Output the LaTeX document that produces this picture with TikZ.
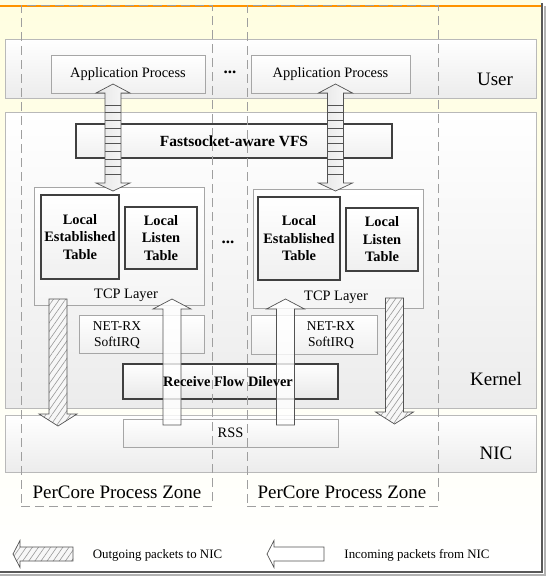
\documentclass[tikz,border=0pt]{standalone}
\usepackage{fontspec}
\setmainfont{Liberation Serif}
\usetikzlibrary{positioning}
\usetikzlibrary{patterns.meta}
\newcommand{\taillegrand}{\fontsize{19}{22}\selectfont}
\newcommand{\taillemoyen}{\fontsize{14.4}{17.5}\selectfont}
\newcommand{\taillepetit}{\fontsize{13.5}{16.5}\selectfont}
\newcommand{\taillelegende}{\fontsize{12.9}{15}\selectfont}
\tikzstyle{couche}=[
  draw=gray!55,
  line width=.8pt,
  top color=white,
  bottom color=gray!15,
  minimum width=531pt,
  inner sep=0pt
]
\tikzstyle{boite}=[
  draw=gray!70,
  line width=.8pt,
  top color=white,
  bottom color=gray!12,
  inner sep=0pt,
  align=center
]
\tikzstyle{boitegras}=[
  boite,
  draw=black!75,
  line width=1.3pt
]
\tikzstyle{tablelocale}=[
  boitegras,
  line width=1.6pt,
  font=\taillemoyen\bfseries
]
\tikzstyle{zone}=[
  draw=gray!75,
  line width=1pt,
  dash pattern=on 9pt off 5pt,
  inner sep=0pt,
  minimum width=191pt,
  minimum height=501pt
]
\tikzstyle{titre}=[inner sep=0pt,font=\taillegrand]
\tikzstyle{sortant}=[
  draw=gray!65!black,
  line width=.7pt,
  preaction={fill=gray!6},
  pattern={Lines[angle=55,distance=5pt,line width=.6pt]},
  pattern color=gray!80
]
\tikzstyle{entrant}=[
  draw=gray!65!black,
  line width=.7pt,
  fill=white,
  fill opacity=.8
]
\tikzstyle{echange}=[
  draw=gray!65!black,
  line width=.7pt,
  left color=gray!20,
  right color=gray!4
]

\begin{document}
\begin{tikzpicture}[x=1pt,y=-1pt]
    \useasboundingbox (0,0) rectangle (548,576);
    \shade[top color=orange!8!yellow!12, bottom color=white] (0,0) rectangle (541,571);
    \draw[orange!85!yellow,line width=1.5pt] (0,6) -- (541,6);
    \draw[black!30,line width=2pt] (545,6) -- (545,575) -- (0,575);
    \draw[black!65,line width=1.6pt] (542,3) -- (542,572) -- (0,572);

    \node[couche,minimum height=59pt] (user) at (270.5,68.5) {};
    \node[couche,minimum height=296pt] (kernel) at (270.5,260) {};
    \node[couche,minimum height=57pt] (nic) at (270.5,443.5) {};
    \node[titre] (luser) at (495,79) {User};
    \node[titre] (lkernel) at (496,379) {Kernel};
    \node[titre] (lnic) at (496,453) {NIC};

    \node[boite,minimum width=154pt,minimum height=38pt,font=\taillemoyen] (appA) at (128,74) {Application Process};
    \node[boite,minimum width=159pt,minimum height=38pt,font=\taillemoyen] (appB) at (330.5,74) {Application Process};
    \node[inner sep=0pt,font=\fontsize{17}{17}\selectfont\bfseries] (pointsA) at (230,72) {...};
    \node[boitegras,minimum width=316pt,minimum height=34pt,font=\fontsize{15.5}{17}\selectfont\bfseries] (vfs) at (234,141) {Fastsocket-aware VFS};

    \node[boite,minimum width=170pt,minimum height=118pt,bottom color=gray!8] (tcpA) at (119,246) {};
    \node[boite,minimum width=170pt,minimum height=119pt,bottom color=gray!8] (tcpB) at (338,248.5) {};
    \node[inner sep=0pt,anchor=base,font=\taillemoyen] (ltcpA) at (126,298) {TCP Layer};
    \node[inner sep=0pt,anchor=base,font=\taillemoyen] (ltcpB) at (336,300) {TCP Layer};
    \node[tablelocale,minimum width=78pt,minimum height=84pt] (etabA) at (80,237) {Local\\Established\\Table};
    \node[tablelocale,minimum width=72pt,minimum height=62pt,line width=1.3pt] (ecouteA) at (161,238) {Local\\Listen\\Table};
    \node[tablelocale,minimum width=82pt,minimum height=83pt] (etabB) at (299,238.5) {Local\\Established\\Table};
    \node[tablelocale,minimum width=72pt,minimum height=63pt,line width=1.3pt] (ecouteB) at (382,239.5) {Local\\Listen\\Table};
    \node[inner sep=0pt,font=\fontsize{17}{17}\selectfont\bfseries] (pointsB) at (228,242) {...};

    \node[boite,minimum width=125pt,minimum height=38pt] (rxA) at (141.5,334) {};
    \node[boite,minimum width=126pt,minimum height=39pt] (rxB) at (314,334.5) {};
    \node[inner sep=0pt,align=center,font=\taillepetit] (lrxA) at (117,335) {NET-RX\\SoftIRQ};
    \node[inner sep=0pt,align=center,font=\taillepetit] (lrxB) at (331,335) {NET-RX\\SoftIRQ};
    \node[boitegras,minimum width=215pt,minimum height=35pt,bottom color=gray!18] (rfd) at (230.5,381.5) {};
    \node[boite,minimum width=215pt,minimum height=28pt,font=\taillemoyen] (rss) at (230.5,433) {RSS};

    \foreach \cx in {113,335.5}{
      \draw[echange] (\cx,84) -- (\cx+17,93) -- (\cx+8,93) -- (\cx+8,183) -- (\cx+17,183) -- (\cx,191)
        -- (\cx-17,183) -- (\cx-8,183) -- (\cx-8,93) -- (\cx-17,93) -- cycle;
      \foreach \y in {105,112.7,...,181}
        \draw[gray!65!black,line width=.5pt] (\cx-8,\y) -- (\cx+8,\y);
    }
    \foreach \cx/\haut/\pointe in {58/299/426,394.5/298/424}
      \draw[sortant] (\cx-9,\haut) -- (\cx+9,\haut) -- (\cx+9,\pointe-12) -- (\cx+19,\pointe-12) -- (\cx,\pointe)
        -- (\cx-19,\pointe-12) -- (\cx-9,\pointe-12) -- cycle;
    \foreach \cx in {172,285.5}
      \draw[entrant] (\cx-9,425) -- (\cx+9,425) -- (\cx+9,309) -- (\cx+19,309) -- (\cx,299)
        -- (\cx-19,309) -- (\cx-9,309) -- cycle;
    \node[inner sep=0pt,font=\taillemoyen\bfseries] (lrfd) at (228,382) {Receive Flow Dilever};

    \node[zone] (zoneA) at (116.5,255.5) {};
    \node[zone] (zoneB) at (342.5,255.5) {};
    \node[titre] (lzoneA) at (117,492.5) {PerCore Process Zone};
    \node[titre] (lzoneB) at (342,492.5) {PerCore Process Zone};

    \draw[sortant] (13,554) -- (20,540.5) -- (20,547) -- (73,547) -- (73,561) -- (20,561) -- (20,567.5) -- cycle;
    \draw[entrant,fill opacity=1] (267,554) -- (274,540.5) -- (274,547) -- (324,547) -- (324,561) -- (274,561) -- (274,567.5) -- cycle;
    \node[inner sep=0pt,font=\taillelegende] (lsortant) at (157.5,555) {Outgoing packets to NIC};
    \node[inner sep=0pt,font=\taillelegende] (lentrant) at (417,555) {Incoming packets from NIC};
  \end{tikzpicture}
\end{document}
